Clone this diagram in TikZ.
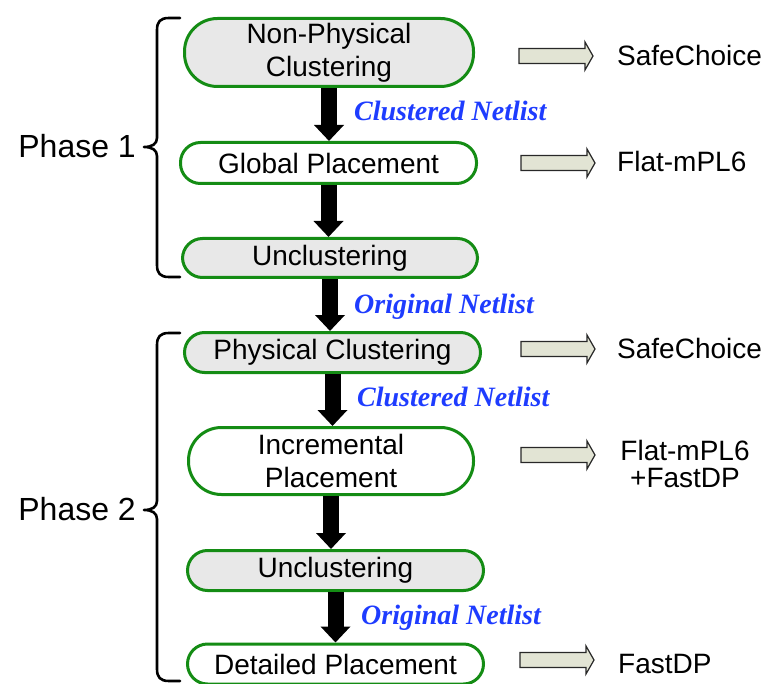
\documentclass[tikz,border=0pt]{standalone}
\usepackage{fontspec}
\setmainfont{Liberation Sans}
\newfontfamily\netfont{Liberation Serif}
\usetikzlibrary{arrows.meta}
\definecolor{boxgreen}{RGB}{20,140,20}
\definecolor{stagegray}{RGB}{232,232,232}
\definecolor{netblue}{RGB}{30,60,255}
\definecolor{arrowfill}{RGB}{226,228,212}
\definecolor{arrowedge}{RGB}{40,40,40}
\begin{document}
\begin{tikzpicture}[x=1pt,y=-1pt,
  stage/.style={draw=boxgreen, line width=3pt, align=center, inner sep=0pt,
    font=\fontsize{28}{33}\selectfont},
  tallstage/.style={stage, rounded corners=33pt, minimum height=68pt},
  flatstage/.style={stage, rounded corners=20pt, minimum height=40pt},
  shaded/.style={fill=stagegray},
  flow/.style={line width=16pt, -{Triangle[length=16pt,width=29pt]}},
  netlabel/.style={anchor=base west, text=netblue, inner sep=0pt,
    font=\netfont\bfseries\itshape\fontsize{28}{33}\selectfont},
  tool/.style={anchor=base west, inner sep=0pt, font=\fontsize{28}{27}\selectfont},
  phase/.style={anchor=base east, inner sep=0pt, font=\fontsize{32}{33}\selectfont},
  brace/.style={line width=2.6pt, line cap=round, line join=round},
  toolarrow/.pic={\draw[line width=1.2pt, draw=arrowedge, fill=arrowfill]
    (0,-7.5) -- (66,-7.5) -- (66,-14) -- (74,0) -- (66,14) -- (66,7.5) -- (0,7.5) -- cycle;}
]
\useasboundingbox (0,0) rectangle (762,684);

% Phase 1 stages
\node[tallstage, shaded, minimum width=289pt] (npc) at (329,52.5) {Non-Physical\\Clustering};
\node[flatstage, minimum width=296pt, minimum height=41pt] (gp) at (328.5,163) {Global Placement};
\node[flatstage, shaded, minimum width=295pt, minimum height=39pt] (uc1) at (330,258) {Unclustering};

% Phase 2 stages
\node[flatstage, shaded, minimum width=296pt] (pc) at (332.5,352.5) {Physical Clustering};
\node[tallstage, minimum width=285pt, minimum height=67pt] (ip) at (331,461) {Incremental\\Placement};
\node[flatstage, shaded, minimum width=296pt] (uc2) at (335.5,570.5) {Unclustering};
\node[flatstage, minimum width=296pt] (dp) at (335.5,664) {Detailed Placement};

% flow between stages
\draw[flow] (npc.south) -- (npc.south |- gp.north);
\draw[flow] (gp.south) -- (gp.south |- uc1.north);
\draw[flow] (uc1.south) -- (uc1.south |- pc.north);
\draw[flow] (pc.south) -- (pc.south |- ip.north);
\draw[flow] (ip.south) -- (ip.south |- uc2.north);
\draw[flow] (uc2.south) -- (uc2.south |- dp.north);

% netlist labels
\node[netlabel] (n1) at (354,121) {Clustered Netlist};
\node[netlabel] (n2) at (354,313) {Original Netlist};
\node[netlabel] (n3) at (357,406) {Clustered Netlist};
\node[netlabel] (n4) at (361,624) {Original Netlist};

% tools
\pic at (519,56) {toolarrow};
\pic at (521,163) {toolarrow};
\pic at (521,349) {toolarrow};
\pic at (521,455) {toolarrow};
\pic at (520,660) {toolarrow};
\node[tool] (t1) at (617,66) {SafeChoice};
\node[tool] (t2) at (617,172) {Flat-mPL6};
\node[tool] (t3) at (617,358) {SafeChoice};
\node[tool, anchor=base, align=center] (t4) at (685,487) {Flat-mPL6\\+FastDP};
\node[tool] (t5) at (618,673) {FastDP};

% phase braces
\draw[brace] (180,18) -- (169,18) .. controls (160,18) and (157,22) .. (157,30)
  -- (157,138) .. controls (157,144) and (152,147) .. (144,147)
  .. controls (152,147) and (157,150) .. (157,156)
  -- (157,265) .. controls (157,273) and (160,277) .. (169,277) -- (180,277);
\draw[brace] (180,333) -- (169,333) .. controls (160,333) and (157,337) .. (157,345)
  -- (157,501) .. controls (157,507) and (152,510) .. (144,510)
  .. controls (152,510) and (157,513) .. (157,519)
  -- (157,669) .. controls (157,677) and (160,681) .. (169,681) -- (180,681);
\node[phase] (p1) at (136,158) {Phase 1};
\node[phase] (p2) at (136,520) {Phase 2};
\end{tikzpicture}
\end{document}
